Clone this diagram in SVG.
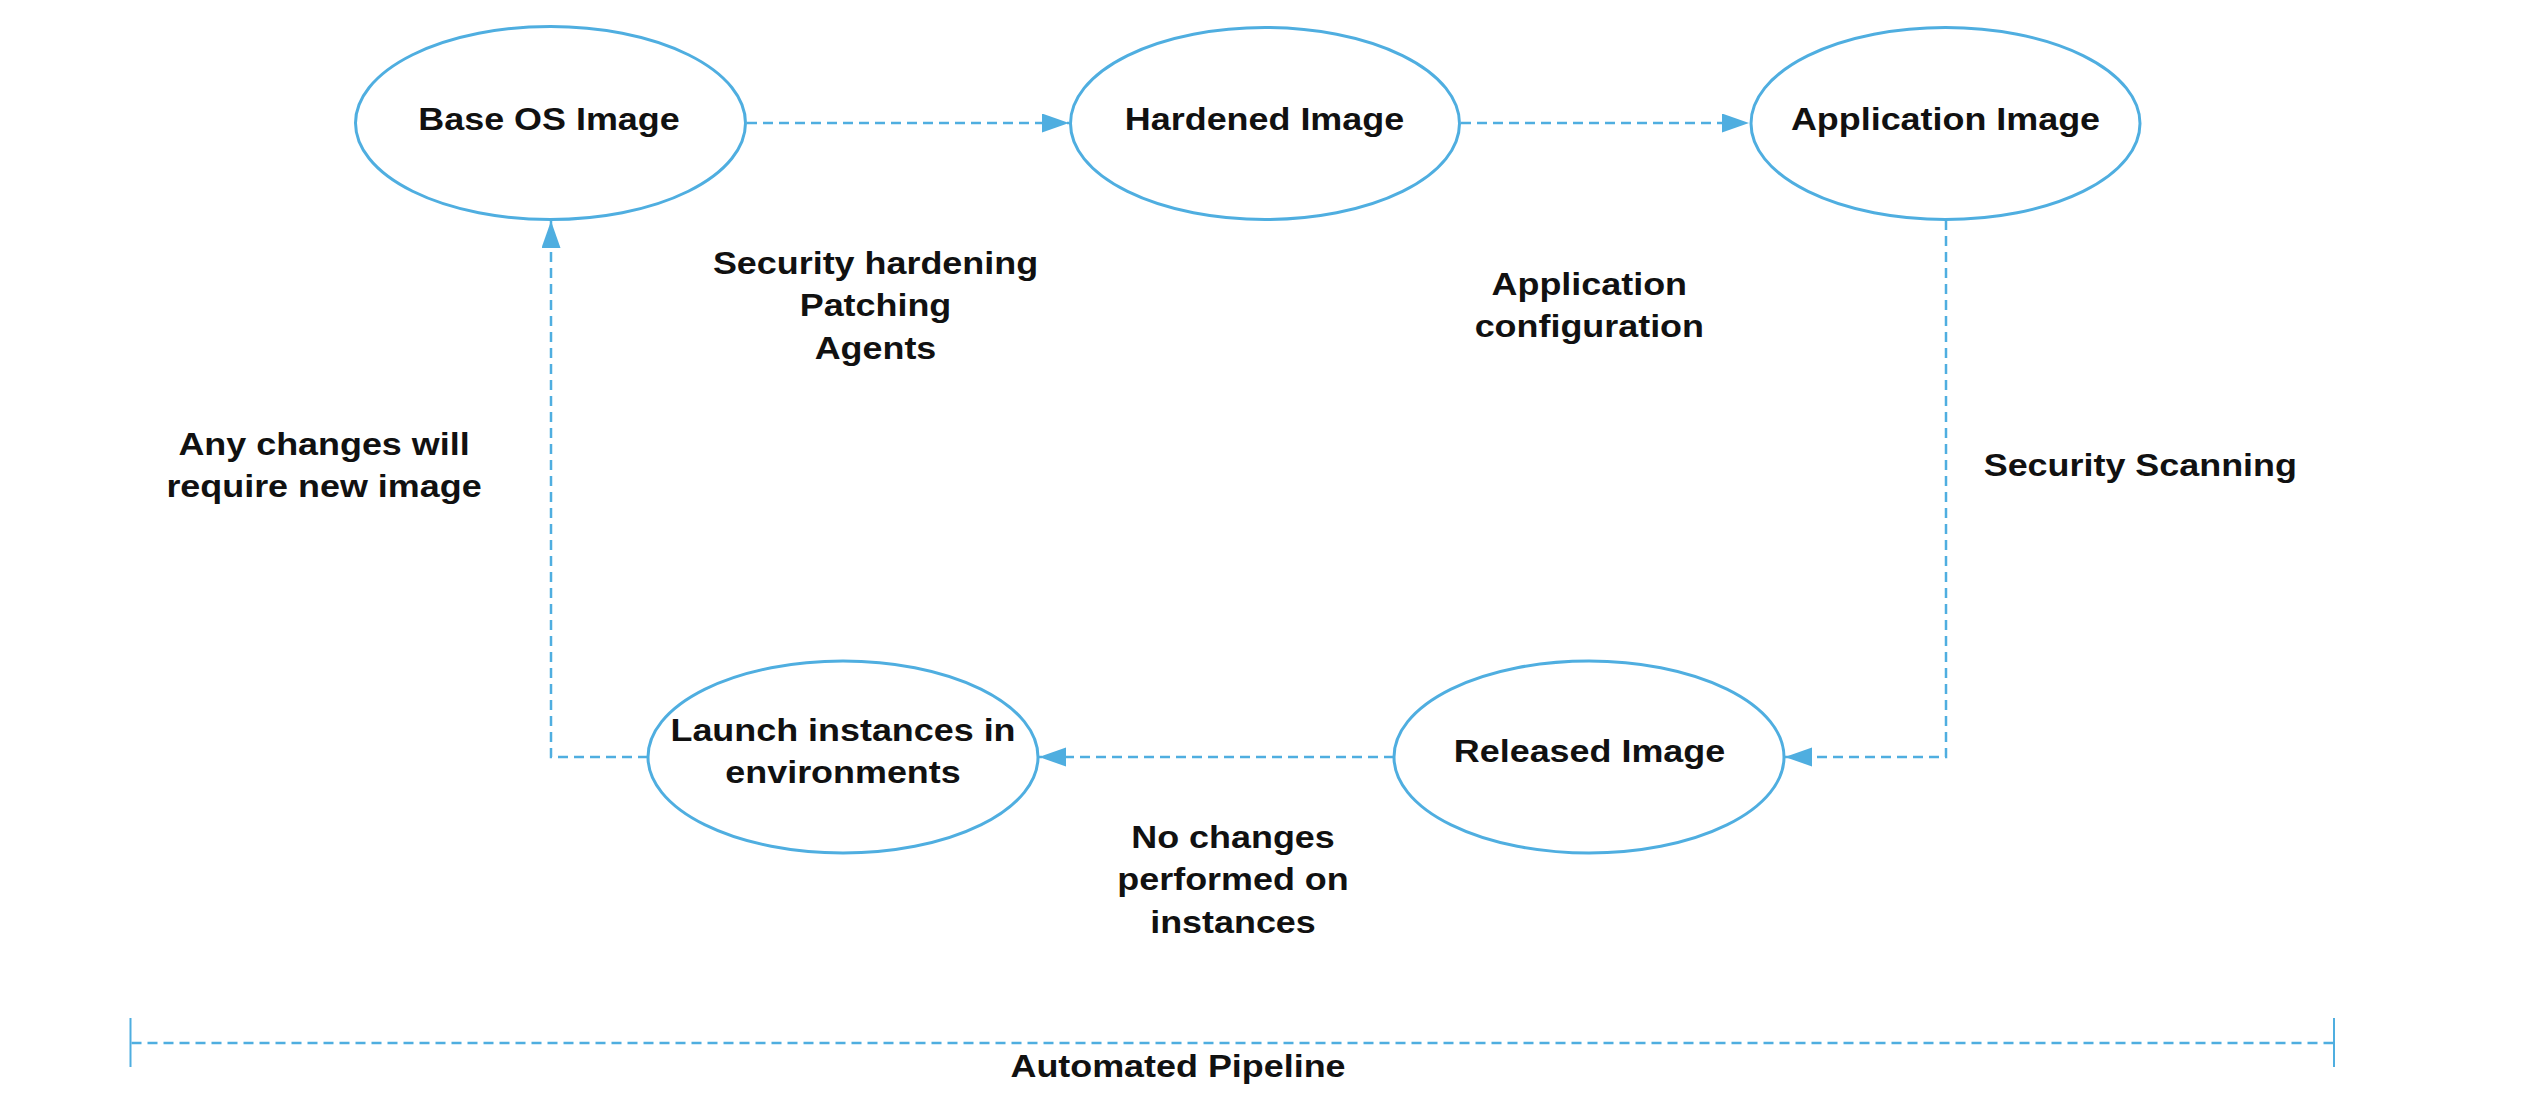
<svg xmlns="http://www.w3.org/2000/svg" width="2530" height="1108" viewBox="0 0 2530 1108">
  <style>
    .node { fill: #ffffff; stroke: #4FAEE0; stroke-width: 3; }
    .conn { fill: none; stroke: #4FAEE0; stroke-width: 2.5; stroke-dasharray: 10 6; }
    .tick { fill: none; stroke: #4FAEE0; stroke-width: 2; }
    .t { font-family: "Liberation Sans", Arial, sans-serif; font-weight: bold; font-size: 31.5px; fill: #111111; text-anchor: middle; }
  </style>
  <defs>
    <marker id="arrow" markerUnits="userSpaceOnUse" markerWidth="28" markerHeight="20" refX="27" refY="9.5" orient="auto">
      <path d="M0,0 L27,9.5 L0,19 Z" fill="#4FAEE0" stroke="none"/>
    </marker>
  </defs>
  <rect width="2530" height="1108" fill="#ffffff"/>

  <g id="connectors">
    <path class="conn" d="M747,123 H1069" marker-end="url(#arrow)"/>
    <path class="conn" d="M1461,123 H1749" marker-end="url(#arrow)"/>
    <path class="conn" d="M1946,220 V757 H1785" marker-end="url(#arrow)"/>
    <path class="conn" d="M1394,757 H1039" marker-end="url(#arrow)"/>
    <path class="conn" d="M648,757 H551 V221" marker-end="url(#arrow)"/>
  </g>

  <g id="node-base-os">
    <ellipse class="node" cx="550.5" cy="123" rx="195" ry="96.5"/>
    <text class="t" transform="translate(549,130) scale(1.14,1)">Base OS Image</text>
  </g>
  <g id="node-hardened">
    <ellipse class="node" cx="1265" cy="123.5" rx="194.5" ry="96"/>
    <text class="t" transform="translate(1264.5,130) scale(1.14,1)">Hardened Image</text>
  </g>
  <g id="node-application">
    <ellipse class="node" cx="1945.5" cy="123.5" rx="194.5" ry="96"/>
    <text class="t" transform="translate(1945.5,130) scale(1.14,1)">Application Image</text>
  </g>
  <g id="node-released">
    <ellipse class="node" cx="1589" cy="757" rx="195" ry="96"/>
    <text class="t" transform="translate(1589.5,762) scale(1.14,1)">Released Image</text>
  </g>
  <g id="node-launch">
    <ellipse class="node" cx="843" cy="757" rx="195" ry="96"/>
    <text class="t" transform="translate(843,741) scale(1.14,1)"><tspan x="0" y="0">Launch instances in</tspan><tspan x="0" y="42.5">environments</tspan></text>
  </g>

  <g id="labels">
    <text class="t" transform="translate(875.5,274) scale(1.14,1)"><tspan x="0" y="0">Security hardening</tspan><tspan x="0" y="42.5">Patching</tspan><tspan x="0" y="85">Agents</tspan></text>
    <text class="t" transform="translate(1589.3,295) scale(1.14,1)"><tspan x="0" y="0">Application</tspan><tspan x="0" y="42.3">configuration</tspan></text>
    <text class="t" transform="translate(2140.3,476) scale(1.14,1)">Security Scanning</text>
    <text class="t" transform="translate(324,455) scale(1.14,1)"><tspan x="0" y="0">Any changes will</tspan><tspan x="0" y="41.7">require new image</tspan></text>
    <text class="t" transform="translate(1233,848) scale(1.14,1)"><tspan x="0" y="0">No changes</tspan><tspan x="0" y="42.5">performed on</tspan><tspan x="0" y="85">instances</tspan></text>
  </g>

  <g id="pipeline">
    <path class="tick" d="M130.5,1018 V1067"/>
    <path class="tick" d="M2334,1018 V1067"/>
    <path class="conn" d="M131.5,1043 H2333"/>
    <text class="t" transform="translate(1178,1077) scale(1.14,1)">Automated Pipeline</text>
  </g>
</svg>
